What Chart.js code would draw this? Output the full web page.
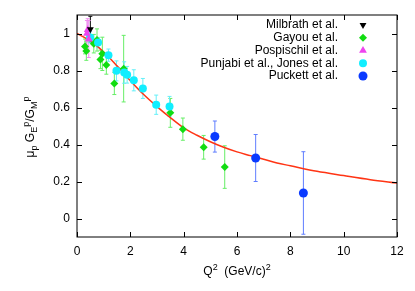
<!DOCTYPE html>
<html>
<head>
    <title>Proton form factor ratio</title>
    <script src="https://cdn.jsdelivr.net/npm/chart.js"></script>
    <style>
        body { margin: 0; background: #fff; }
    </style>
</head>
<body>
    <canvas id="chart" width="415" height="291"></canvas>

    <script>
        // valori: Q^2 (GeV/c)^2, rapporto, errore
        const milbrathQ2 = [0.50];
        const milbrathR = [1.023];
        const milbrathErr = [0.07];

        const gayouQ2 = [0.30, 0.35, 0.63, 0.75, 0.88, 0.95, 1.10, 1.40, 1.75, 3.50, 3.97, 4.75, 5.54];
        const gayouR = [0.93, 0.905, 0.945, 0.965, 0.86, 0.89, 0.83, 0.73, 0.81, 0.571, 0.483, 0.385, 0.278];
        const gayouErr = [0.04, 0.05, 0.05, 0.06, 0.05, 0.09, 0.05, 0.06, 0.18, 0.078, 0.06, 0.064, 0.115];

        const pospischilQ2 = [0.373, 0.401, 0.441];
        const pospischilR = [1.0, 1.02, 0.97];
        const pospischilErr = [0.07, 0.06, 0.10];

        const punjabiQ2 = [0.49, 0.79, 1.18, 1.48, 1.77, 1.88, 2.13, 2.47, 2.97, 3.47];
        const punjabiR = [0.979, 0.951, 0.883, 0.798, 0.789, 0.777, 0.747, 0.703, 0.615, 0.606];
        const punjabiErr = [0.03, 0.028, 0.033, 0.054, 0.058, 0.045, 0.057, 0.054, 0.052, 0.054];

        const puckettQ2 = [5.17, 6.70, 8.49];
        const puckettR = [0.443, 0.327, 0.138];
        const puckettErr = [0.084, 0.127, 0.223];

        // curva di fit (rossa)
        const fitQ2 = [0, 0.5, 1, 1.5, 2, 2.5, 3, 3.5, 4, 4.5, 5, 5.5, 6, 6.5, 7, 7.5, 8, 9, 10, 11, 12];
        const fitR = [1.0, 0.96, 0.90, 0.825, 0.745, 0.67, 0.605, 0.545, 0.49, 0.45, 0.415, 0.385, 0.36, 0.34, 0.32, 0.30, 0.285, 0.255, 0.232, 0.21, 0.192];

        const xTicks = [0, 2, 4, 6, 8, 10, 12];
        const yTicks = [0, 0.2, 0.4, 0.6, 0.8, 1];

        const legendOrder = ['Milbrath et al.', 'Gayou et al.', 'Pospischil et al.', 'Punjabi et al., Jones et al.', 'Puckett et al.'];

        const FONT = 'Liberation Sans, Arial, sans-serif';

        function pts(xs, ys) {
            return xs.map((x, i) => ({ x: x, y: ys[i] }));
        }

        // barre d'errore verticali, sotto i marker
        const errorBars = {
            id: 'errorBars',
            beforeDatasetsDraw(chart) {
                const ctx = chart.ctx;
                const xs = chart.scales.x, ys = chart.scales.y;
                const ca = chart.chartArea;
                ctx.save();
                ctx.beginPath();
                ctx.rect(ca.left, ca.top, ca.right - ca.left, ca.bottom - ca.top);
                ctx.clip();
                chart.data.datasets.forEach(ds => {
                    if (!ds.errors) return;
                    ctx.strokeStyle = ds.errorColor;
                    ctx.lineWidth = 1;
                    ds.data.forEach((p, i) => {
                        const x = xs.getPixelForValue(p.x);
                        const y1 = ys.getPixelForValue(p.y + ds.errors[i]);
                        const y2 = ys.getPixelForValue(p.y - ds.errors[i]);
                        ctx.beginPath();
                        ctx.moveTo(x, y1); ctx.lineTo(x, y2);
                        ctx.moveTo(x - 2, y1); ctx.lineTo(x + 2, y1);
                        ctx.moveTo(x - 2, y2); ctx.lineTo(x + 2, y2);
                        ctx.stroke();
                    });
                });
                ctx.restore();
            }
        };

        // testo con pedici / apici
        function drawRich(ctx, parts, size) {
            const small = Math.round(size * 0.75);
            let w = 0;
            parts.forEach(p => {
                ctx.font = (p[1] ? small : size) + 'px ' + FONT;
                p.w = ctx.measureText(p[0]).width;
                w += p.w;
            });
            let x = -w / 2;
            parts.forEach(p => {
                ctx.font = (p[1] ? small : size) + 'px ' + FONT;
                const dy = p[1] === -1 ? 3 : (p[1] === 1 ? -5 : 0);
                ctx.fillText(p[0], x, dy);
                x += p.w;
            });
        }

        const frameAndTitles = {
            id: 'frameAndTitles',
            afterDraw(chart) {
                const ctx = chart.ctx;
                const ca = chart.chartArea;
                const xs = chart.scales.x, ys = chart.scales.y;
                ctx.save();
                ctx.strokeStyle = '#000';
                ctx.lineWidth = 1;
                ctx.strokeRect(ca.left, ca.top, ca.right - ca.left, ca.bottom - ca.top);
                // tacche interne su tutti i lati
                ctx.beginPath();
                xs.ticks.forEach(t => {
                    const x = Math.round(xs.getPixelForValue(t.value)) + 0.5;
                    ctx.moveTo(x, ca.bottom); ctx.lineTo(x, ca.bottom - 5);
                    ctx.moveTo(x, ca.top); ctx.lineTo(x, ca.top + 5);
                });
                ys.ticks.forEach(t => {
                    const y = Math.round(ys.getPixelForValue(t.value)) + 0.5;
                    ctx.moveTo(ca.left, y); ctx.lineTo(ca.left + 5, y);
                    ctx.moveTo(ca.right, y); ctx.lineTo(ca.right - 5, y);
                });
                ctx.stroke();

                ctx.fillStyle = '#000';
                ctx.textBaseline = 'alphabetic';
                ctx.textAlign = 'left';
                // titolo asse x
                ctx.save();
                ctx.translate((ca.left + ca.right) / 2, 275);
                drawRich(ctx, [['Q', 0], ['2', 1], ['  (GeV/c)', 0], ['2', 1]], 12);
                ctx.restore();
                // titolo asse y
                ctx.save();
                ctx.translate(34, 127);
                ctx.rotate(-Math.PI / 2);
                drawRich(ctx, [['\u03bc', 0], ['p', -1], [' G', 0], ['E', -1], ['p', 1], ['/G', 0], ['M', -1], ['p', 1]], 12);
                ctx.restore();

                // legenda
                ctx.font = '12px ' + FONT;
                ctx.textAlign = 'right';
                ctx.textBaseline = 'middle';
                legendOrder.forEach((name, i) => {
                    const ds = chart.data.datasets.find(d => d.label === name);
                    const y = 25 + i * 12.75;
                    ctx.fillStyle = '#000';
                    ctx.fillText(name, 338, y);
                    ctx.fillStyle = ds.backgroundColor;
                    ctx.strokeStyle = ds.borderColor;
                    Chart.helpers.drawPoint(ctx, {
                        pointStyle: ds.pointStyle,
                        rotation: ds.rotation || 0,
                        radius: ds.pointRadius,
                        borderWidth: 0
                    }, 363, y);
                });
                ctx.restore();
            }
        };

        const ctx = document.getElementById('chart').getContext('2d');

        new Chart(ctx, {
            type: 'scatter',
            data: {
                datasets: [
                    {
                        label: 'Milbrath et al.',
                        data: pts(milbrathQ2, milbrathR),
                        errors: milbrathErr,
                        errorColor: '#000000',
                        pointStyle: 'triangle',
                        rotation: 180,
                        pointRadius: 4,
                        backgroundColor: '#000000',
                        borderColor: '#000000',
                        borderWidth: 0,
                        order: 0
                    },
                    {
                        label: 'Gayou et al.',
                        data: pts(gayouQ2, gayouR),
                        errors: gayouErr,
                        errorColor: '#66ee66',
                        pointStyle: 'rectRot',
                        pointRadius: 4,
                        backgroundColor: '#11dd11',
                        borderColor: '#11dd11',
                        borderWidth: 0,
                        order: 4
                    },
                    {
                        label: 'Pospischil et al.',
                        data: pts(pospischilQ2, pospischilR),
                        errors: pospischilErr,
                        errorColor: '#f08af0',
                        pointStyle: 'triangle',
                        pointRadius: 4.5,
                        backgroundColor: '#ee44ee',
                        borderColor: '#ee44ee',
                        borderWidth: 0,
                        order: 1
                    },
                    {
                        label: 'Punjabi et al., Jones et al.',
                        data: pts(punjabiQ2, punjabiR),
                        errors: punjabiErr,
                        errorColor: '#66f0f8',
                        pointStyle: 'circle',
                        pointRadius: 4,
                        backgroundColor: '#11eeff',
                        borderColor: '#11eeff',
                        borderWidth: 0,
                        order: 2
                    },
                    {
                        label: 'Puckett et al.',
                        data: pts(puckettQ2, puckettR),
                        errors: puckettErr,
                        errorColor: '#5f7dff',
                        pointStyle: 'circle',
                        pointRadius: 4.5,
                        backgroundColor: '#0a3aff',
                        borderColor: '#0a3aff',
                        borderWidth: 0,
                        order: 3
                    },
                    {
                        type: 'line',
                        label: 'fit',
                        data: pts(fitQ2, fitR),
                        showLine: true,
                        pointRadius: 0,
                        borderColor: '#ff3414',
                        borderWidth: 1.5,
                        fill: false,
                        cubicInterpolationMode: 'monotone',
                        order: 5
                    }
                ]
            },
            options: {
                responsive: false,
                animation: false,
                layout: { padding: { top: 15, right: 18, left: 0, bottom: 0 } },
                plugins: {
                    legend: { display: false },
                    tooltip: { enabled: false }
                },
                scales: {
                    x: {
                        type: 'linear',
                        min: 0,
                        max: 12,
                        afterBuildTicks: s => { s.ticks = xTicks.map(v => ({ value: v })); },
                        afterFit: s => { s.height = 54; },
                        grid: { display: false, drawTicks: false },
                        border: { display: false },
                        ticks: {
                            color: '#000',
                            padding: 7,
                            maxRotation: 0,
                            font: { family: FONT, size: 12 }
                        }
                    },
                    y: {
                        type: 'linear',
                        min: -0.1,
                        max: 1.1,
                        afterBuildTicks: s => { s.ticks = yTicks.map(v => ({ value: v })); },
                        afterFit: s => { s.width = 77; },
                        grid: { display: false, drawTicks: false },
                        border: { display: false },
                        ticks: {
                            color: '#000',
                            padding: 7,
                            font: { family: FONT, size: 12 },
                            callback: v => String(+v.toFixed(1))
                        }
                    }
                }
            },
            plugins: [errorBars, frameAndTitles]
        });
    </script>
</body>
</html>
